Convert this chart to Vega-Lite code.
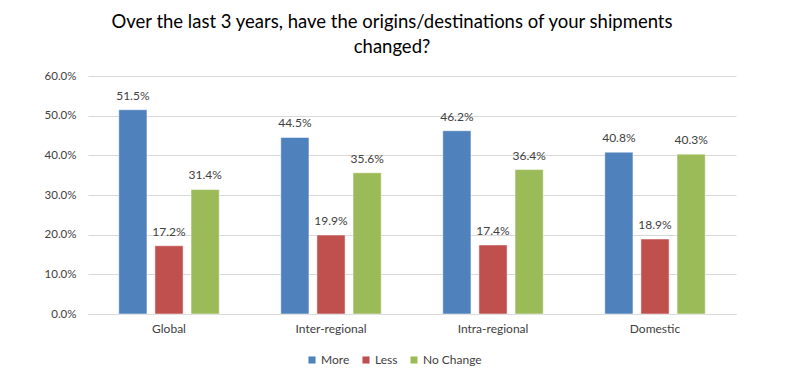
{
  "$schema": "https://vega.github.io/schema/vega-lite/v6.json",
  "width": 648,
  "height": 238,
  "autosize": {"type": "none"},
  "padding": {"left": 88, "top": 76, "right": 54, "bottom": 74},
  "background": "white",
  "title": {
    "text": ["Over the last 3 years, have the origins/destinations of your shipments", "changed?"],
    "fontSize": 18.5,
    "font": "Lato",
    "fontWeight": "normal",
    "color": "#000000",
    "lineHeight": 25,
    "anchor": "middle",
    "dx": -20,
    "offset": 14
  },
  "data": {
    "values": [
      {"region": "Global", "answer": "More", "value": 0.515},
      {"region": "Global", "answer": "Less", "value": 0.172},
      {"region": "Global", "answer": "No Change", "value": 0.314},
      {"region": "Inter-regional", "answer": "More", "value": 0.445},
      {"region": "Inter-regional", "answer": "Less", "value": 0.199},
      {"region": "Inter-regional", "answer": "No Change", "value": 0.356},
      {"region": "Intra-regional", "answer": "More", "value": 0.462},
      {"region": "Intra-regional", "answer": "Less", "value": 0.174},
      {"region": "Intra-regional", "answer": "No Change", "value": 0.364},
      {"region": "Domestic", "answer": "More", "value": 0.408},
      {"region": "Domestic", "answer": "Less", "value": 0.189},
      {"region": "Domestic", "answer": "No Change", "value": 0.403}
    ]
  },
  "encoding": {
    "x": {
      "field": "region", "type": "nominal",
      "sort": ["Global", "Inter-regional", "Intra-regional", "Domestic"],
      "scale": {"paddingInner": 0.38, "paddingOuter": 0.19},
      "axis": {"title": null, "labelAngle": 0, "ticks": false, "domainColor": "#d9d9d9", "labelPadding": 9, "labelFontSize": 12, "labelFont": "Lato", "labelColor": "#404040"}
    },
    "xOffset": {
      "field": "answer", "type": "nominal",
      "sort": ["More", "Less", "No Change"],
      "scale": {"paddingInner": 0.22}
    },
    "y": {
      "field": "value", "type": "quantitative",
      "scale": {"domain": [0, 0.6]},
      "axis": {"title": null, "format": ".1%", "values": [0, 0.1, 0.2, 0.3, 0.4, 0.5, 0.6], "ticks": false, "domain": false, "labelPadding": 12, "labelFontSize": 11.5, "labelFont": "Lato", "labelColor": "#404040", "gridColor": "#d9d9d9"}
    }
  },
  "layer": [
    {
      "mark": {"type": "bar", "stroke": "white", "strokeWidth": 0.5},
      "encoding": {
        "color": {
          "field": "answer", "type": "nominal",
          "sort": ["More", "Less", "No Change"],
          "scale": {"domain": ["More", "Less", "No Change"], "range": ["#4F81BD", "#C0504D", "#9BBB59"]},
          "legend": {
            "title": null, "orient": "none", "direction": "horizontal",
            "legendX": 218, "legendY": 278,
            "symbolType": "square", "symbolSize": 50, "symbolStrokeWidth": 0,
            "labelFontSize": 12, "labelFont": "Lato", "labelColor": "#404040",
            "columnPadding": 10, "labelOffset": 3
          }
        }
      }
    },
    {
      "mark": {"type": "text", "baseline": "bottom", "dy": -7, "fontSize": 12, "font": "Lato", "color": "#404040"},
      "encoding": {
        "text": {"field": "value", "type": "quantitative", "format": ".1%"}
      }
    }
  ],
  "config": {"view": {"stroke": null}}
}
